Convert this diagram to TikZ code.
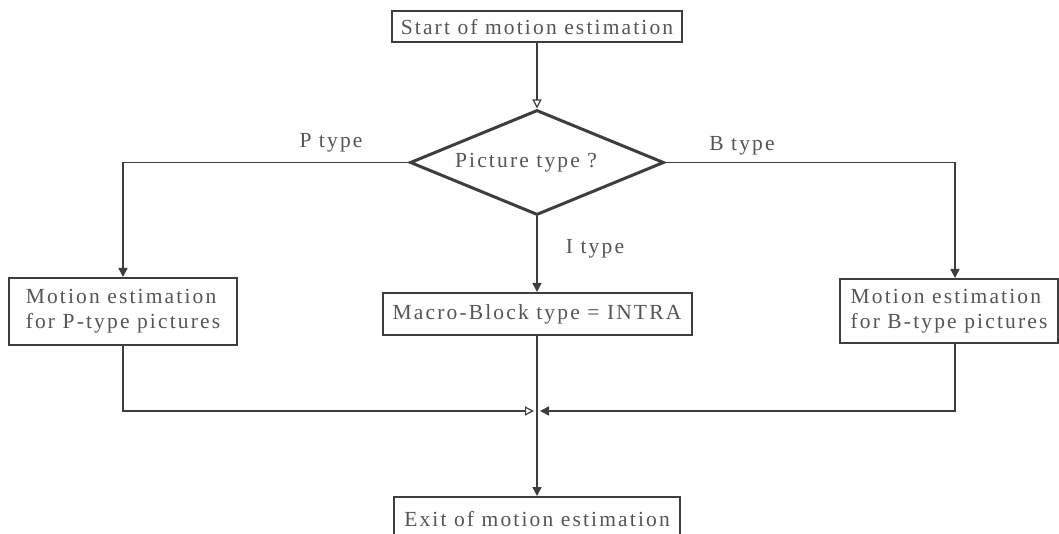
\documentclass[tikz,border=0pt]{standalone}
\usepackage{fontspec}
\setmainfont{Liberation Serif}[LetterSpace=10]
\usetikzlibrary{shapes.geometric,arrows.meta}

\definecolor{inkline}{RGB}{62,62,62}
\definecolor{inktext}{RGB}{85,85,85}

\tikzset{
  procbox/.style={draw=inkline, line width=2pt, fill=white, inner sep=0pt,
    text=inktext, font=\fontsize{21.5}{25}\selectfont, align=left},
  decision/.style={diamond, draw=inkline, line width=3pt, inner sep=0pt,
    shape aspect=2.42, minimum width=254pt, minimum height=105pt,
    text=inktext, font=\fontsize{21.5}{25}\selectfont},
  tag/.style={text=inktext, font=\fontsize{21.5}{25}\selectfont, inner sep=0pt},
  flow/.style={draw=inkline, line width=1.5pt},
  solidtip/.style={-{Triangle[length=9pt,width=9pt]}},
  hollowtip/.style={-{Triangle[open,length=9pt,width=9pt,line width=1.2pt]}},
}

\begin{document}
\begin{tikzpicture}[x=1pt, y=-1pt]
  \useasboundingbox (0,0) rectangle (1059,534);
  \clip (0,0) rectangle (1059,534);
  \fill[white] (0,0) rectangle (1059,534);

  % boxes of the flow chart
  \node[procbox, minimum width=290pt, minimum height=31pt] (start) at (537,27)
    {Start of motion estimation};
  \node[decision] (ptype) at (537,162.5) {Picture type ?\hspace*{22pt}};
  \node[procbox, minimum width=228pt, minimum height=67pt] (pest) at (123,311.5)
    {Motion estimation\\for P-type pictures};
  \node[procbox, minimum width=309pt, minimum height=42pt] (intra) at (537,314)
    {Macro-Block type = INTRA};
  \node[procbox, minimum width=218pt, minimum height=64pt] (best) at (949,311)
    {Motion estimation\\for B-type pictures};
  \node[procbox, minimum width=286pt, minimum height=44pt] (exit) at (537,519)
    {Exit of motion estimation};

  % branch labels
  \node[tag] (plbl) at (331,143) {P type};
  \node[tag] (blbl) at (742,146) {B type};
  \node[tag] (ilbl) at (595,249) {I type};

  % junction where the three branches meet
  \coordinate (merge) at (537,411);

  % connectors
  \draw[flow, hollowtip] (start.south) -- (ptype.north);
  \draw[flow, solidtip] (ptype.west) -| (pest.north);
  \draw[flow, solidtip] (ptype.east) -| ([xshift=6pt]best.north);
  \draw[flow, solidtip] (ptype.south) -- (intra.north);
  \draw[flow, hollowtip] (pest.south) |- ([xshift=-3pt]merge);
  \draw[flow, solidtip] ([xshift=6pt]best.south) |- ([xshift=3pt]merge);
  \draw[flow, solidtip] (intra.south) -- (exit.north);
\end{tikzpicture}
\end{document}
